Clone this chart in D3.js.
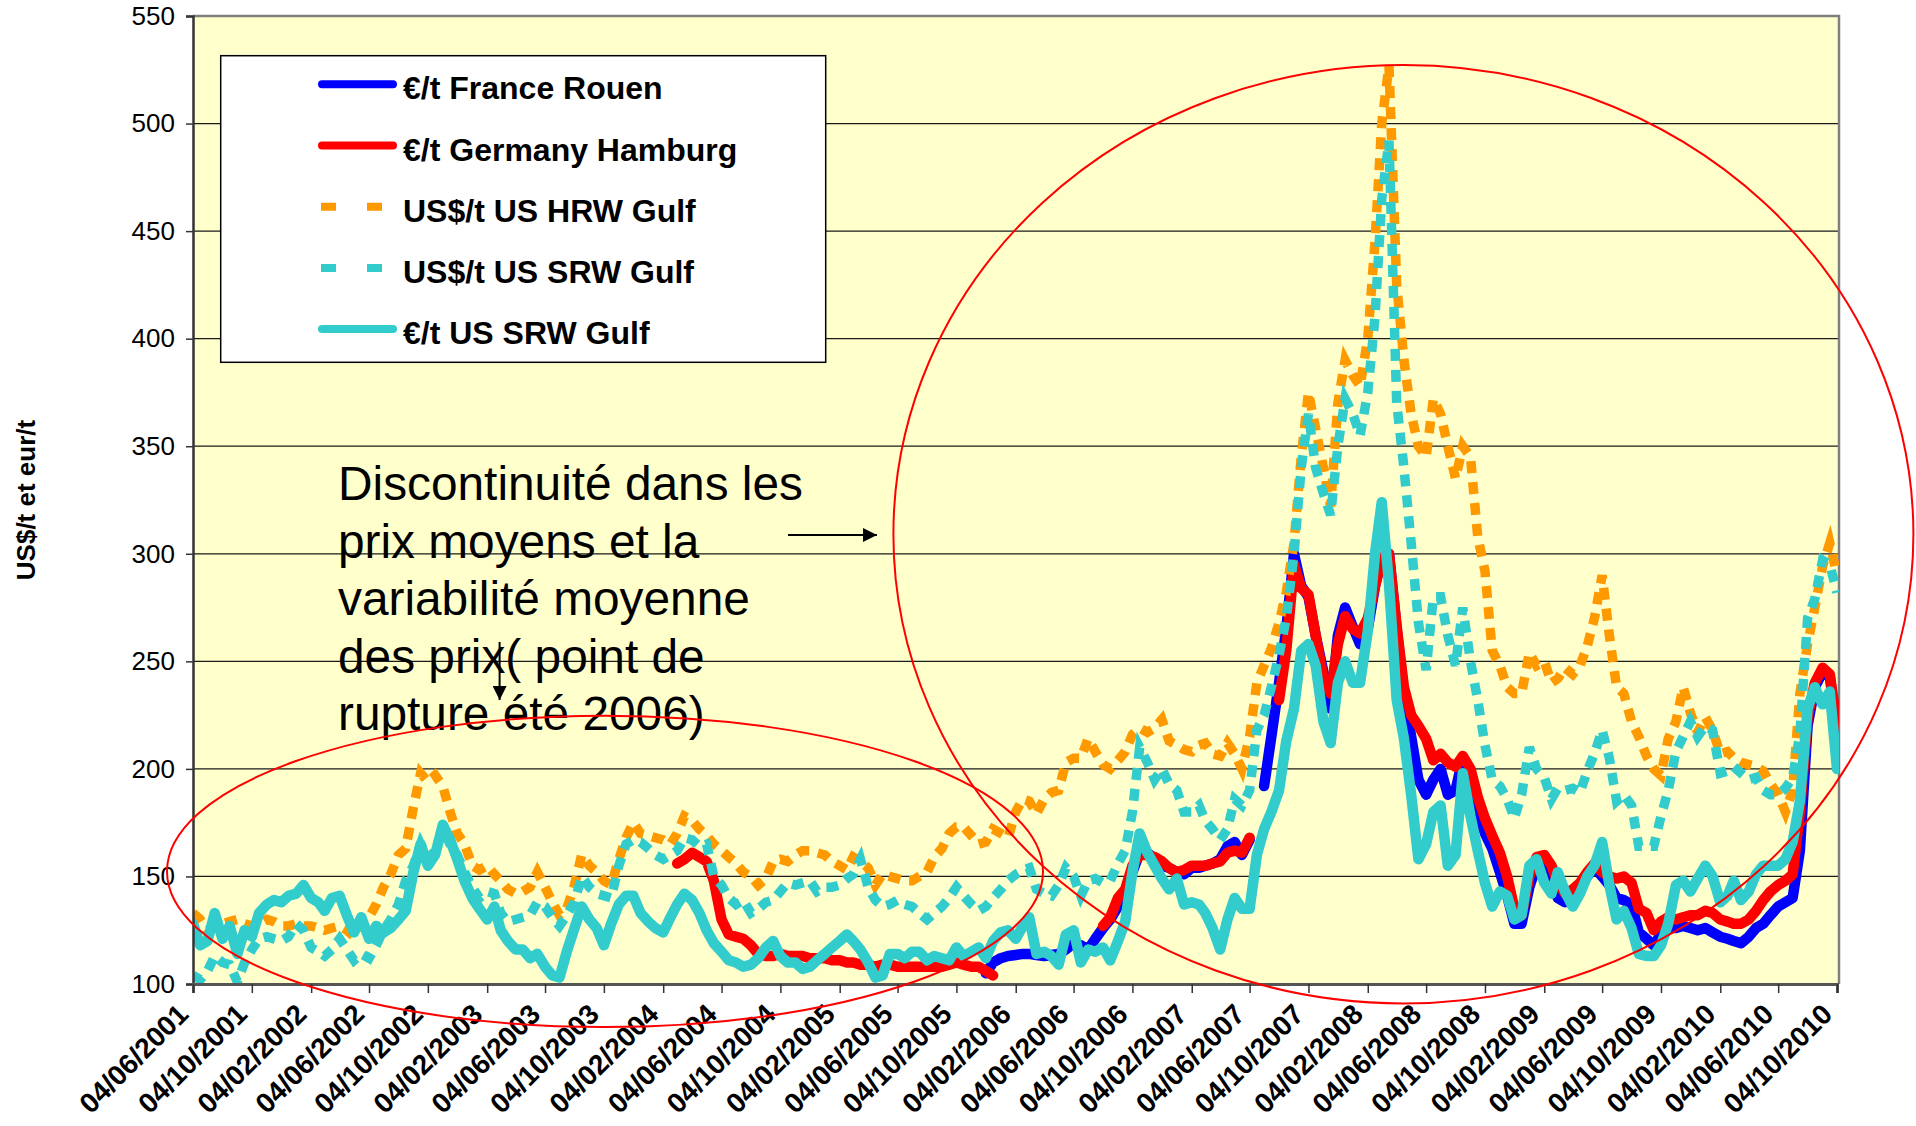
<!DOCTYPE html>
<html>
<head>
<meta charset="utf-8">
<script src="https://cdn.jsdelivr.net/npm/d3@7/dist/d3.min.js"></script>
<style>
  html, body { margin: 0; padding: 0; background: #ffffff; }
  svg { display: block; }
  text { font-family: "Liberation Sans", Arial, Helvetica, sans-serif; }
</style>
</head>
<body>
<svg id="chart" width="1916" height="1126"></svg>
<script>
const startDate = "2001-06-04";           // first observation, then every half month
const tickLabels = ["04/06/2001","04/10/2001","04/02/2002","04/06/2002","04/10/2002","04/02/2003",
  "04/06/2003","04/10/2003","04/02/2004","04/06/2004","04/10/2004","04/02/2005","04/06/2005",
  "04/10/2005","04/02/2006","04/06/2006","04/10/2006","04/02/2007","04/06/2007","04/10/2007",
  "04/02/2008","04/06/2008","04/10/2008","04/02/2009","04/06/2009","04/10/2009","04/02/2010",
  "04/06/2010","04/10/2010"];
const yTicks = [100,150,200,250,300,350,400,450,500,550];
const seriesNames = ["€/t France Rouen","€/t Germany Hamburg","US$/t US HRW Gulf","US$/t US SRW Gulf","€/t US SRW Gulf"];
const yTitle = "US$/t et eur/t";
const annotationLines = ["Discontinuité dans les","prix moyens et la","variabilité moyenne","des prix( point de","rupture été 2006)"];

// €/t France Rouen (starts at observation 108)
const frRouenStart = 108;
const frRouen = [105,110,
  112,113,113.5,114,114,113.5,113,113.5,114,116,
  119,118,116,121,126,130,136,143,152,161,
  161,158,155,154,152,151,154,154,155,156,
  158,164,166,160,167,null,192,215,240,265,
  300,285,280,262,245,228,262,275,266,258,
  265,285,298,300,265,235,215,195,188,195,
  200,188,190,205,195,180,170,163,152,141,
  128,128,145,155,156,150,140,138,140,145,
  150,154,150,146,140,139,137,124,121,118,
  123,126,126,127,126,125,126,124,122,121,
  120,119,122,126,128,132,136,138,140,162,
  220,238,245,243,218];

// €/t Germany Hamburg (starts at observation 66)
const deHamStart = 66;
const deHam = [156,158,161,159,
  157,148,130,123,122,121,118,114,113,113,
  114,113,113,113,112,112,112,111,111,110,
  110,109,109,108,109,109,108,108,108,108,
  108,108,108,109,110,109,108,108,106,104,
  null,null,null,null,null,null,null,null,null,null,
  null,null,null,null,127,131,140,144,155,160,
  160,159,157,154,152,153,155,155,155,156,
  157,161,162,161,168,null,null,null,232,255,
  295,284,281,262,242,235,258,271,265,263,
  270,285,298,300,266,238,225,220,214,204,
  207,203,201,206,200,187,177,169,161,150,
  135,132,150,159,160,155,147,142,144,147,
  152,156,152,150,149,150,147,135,133,125,
  129,131,130,131,132,132,134,133,130,129,
  128,128,130,134,139,143,146,148,151,180,
  224,240,247,244,220];

// US$/t US HRW Gulf
const usHRW = [133,130,125,127,128,129,130,128,127,128,
  130,129,127,127,128,127,127,126,125,126,
  127,125,122,127,131,137,145,151,160,163,
  182,198,194,197,192,180,170,165,155,153,
  155,151,148,144,142,143,145,152,145,138,
  132,135,146,160,155,152,148,146,158,168,
  175,170,169,168,167,165,170,178,176,172,
  169,165,162,159,156,152,150,146,149,157,
  158,157,160,162,162,161,160,157,155,153,
  159,157,154,146,151,150,149,148,148,150,
  152,159,163,170,173,173,169,165,166,172,
  170,168,180,186,185,179,186,189,190,203,
  205,205,214,208,202,200,204,208,216,219,
  217,219,223,213,211,209,208,211,212,207,
  206,212,207,200,215,240,248,256,268,282,
  305,345,375,358,340,322,370,390,383,378,
  400,445,500,527,425,390,365,350,345,372,
  365,350,335,350,345,308,292,255,248,238,
  235,235,254,248,250,240,242,247,244,248,
  257,270,290,262,238,235,222,215,206,200,
  197,214,222,238,226,217,224,218,207,208,
  205,203,202,201,199,193,188,180,190,235,
  258,275,294,305,290];

// US$/t US SRW Gulf
const usSRW = [104,102,106,113,110,109,101,110,116,121,
  122,121,120,122,128,125,117,115,113,116,
  121,116,111,114,112,118,125,130,137,148,
  155,165,158,162,172,165,160,152,145,140,
  143,142,133,129,130,131,132,138,136,131,
  127,132,138,150,145,142,141,140,155,165,
  167,166,163,160,158,160,162,168,167,164,
  165,150,146,140,137,139,133,135,138,139,
  143,147,146,147,148,143,145,145,146,149,
  151,158,145,139,136,137,139,137,136,133,
  130,133,136,140,145,141,137,134,136,140,
  144,148,151,153,154,144,142,141,146,154,
  150,141,148,149,147,148,156,162,180,210,
  203,195,200,193,190,180,180,183,176,172,
  167,172,186,183,190,218,225,238,253,270,
  300,340,365,340,328,318,350,372,365,355,
  375,410,465,492,370,340,305,268,246,280,
  280,262,248,275,250,232,211,195,192,186,
  177,188,210,200,196,186,191,190,191,189,
  199,207,218,205,185,188,183,164,164,164,
  178,190,208,215,222,215,220,218,198,199,
  201,198,195,196,190,188,188,191,196,216,
  270,279,297,295,282];

// €/t US SRW Gulf
const eurSRW = [128,118,120,133,121,127,114,125,122,133,
  137,139,138,141,142,146,140,138,134,140,
  141,132,124,131,121,127,124,126,130,134,
  152,165,155,160,174,167,158,148,140,135,
  130,136,125,120,116,116,112,114,108,104,
  103,115,126,136,130,126,118,128,137,141,
  141,133,129,126,124,131,137,142,139,133,
  125,119,115,111,110,108,109,112,117,120,
  113,110,110,107,108,111,114,117,120,123,
  120,116,110,103,104,114,114,112,115,115,
  111,113,112,111,117,113,115,117,112,120,
  124,125,121,127,131,114,115,113,109,123,
  125,110,116,115,117,111,120,129,152,170,
  161,155,149,144,149,137,138,137,133,126,
  116,130,140,135,135,160,172,180,190,213,
  228,255,258,248,222,212,240,250,240,240,
  264,300,324,286,232,214,188,158,165,180,
  183,155,160,198,178,162,147,136,143,141,
  130,132,155,158,147,142,152,143,136,142,
  150,155,166,146,130,134,126,114,113,113,
  118,128,146,148,143,149,155,150,138,141,
  148,139,143,151,155,155,155,158,166,185,
  228,238,230,236,200];

// ---------------- LAYOUT ----------------
const plot = { left: 193, top: 16, right: 1839, bottom: 984 };
const colors = { blue: "#0000FF", red: "#FF0000", orange: "#FF9900", cyan: "#33CCCC", bg: "#FFFFCC" };

const svg = d3.select("#chart");
const parseISO = d3.timeParse("%Y-%m-%d");
const parseTick = d3.timeParse("%d/%m/%Y");
const t0 = parseISO(startDate);
const obsDate = i => d3.timeDay.offset(d3.timeMonth.offset(t0, Math.floor(i / 2)), (i % 2) * 15);
const tickDates = tickLabels.map(parseTick);

const x = d3.scaleTime()
  .domain([tickDates[0], tickDates[tickDates.length - 1]])
  .range([plot.left, 1837]);
const y = d3.scaleLinear().domain([100, 550]).range([plot.bottom, plot.top]);

// plot background
svg.append("rect")
  .attr("x", plot.left).attr("y", plot.top)
  .attr("width", plot.right - plot.left).attr("height", plot.bottom - plot.top)
  .attr("fill", colors.bg);

// gridlines
svg.append("g").selectAll("line").data(yTicks.filter(v => v > 100 && v < 550)).join("line")
  .attr("x1", plot.left).attr("x2", plot.right)
  .attr("y1", d => y(d)).attr("y2", d => y(d))
  .attr("stroke", "#1a1a1a").attr("stroke-width", 1.2);

// plot border (top/right gray)
svg.append("path")
  .attr("d", `M${plot.left},${plot.top}H${plot.right}V${plot.bottom}`)
  .attr("fill", "none").attr("stroke", "#808080").attr("stroke-width", 2.5);

// clip
svg.append("clipPath").attr("id", "clip").append("rect")
  .attr("x", plot.left).attr("y", plot.top - 6)
  .attr("width", plot.right - plot.left).attr("height", plot.bottom - plot.top + 6);

const g = svg.append("g").attr("clip-path", "url(#clip)");

function makeLine(start) {
  return d3.line()
    .defined(d => d != null)
    .x((d, i) => x(obsDate(start + i)))
    .y(d => y(d));
}

const seriesDefs = [
  { data: frRouen, start: frRouenStart, color: colors.blue, dashed: false },
  { data: deHam, start: deHamStart, color: colors.red, dashed: false },
  { data: usHRW, start: 0, color: colors.orange, dashed: true },
  { data: usSRW, start: 0, color: colors.cyan, dashed: true },
  { data: eurSRW, start: 0, color: colors.cyan, dashed: false }
];

seriesDefs.forEach(s => {
  const p = g.append("path")
    .attr("d", makeLine(s.start)(s.data))
    .attr("fill", "none")
    .attr("stroke", s.color);
  if (s.dashed) {
    p.attr("stroke-width", 9.5).attr("stroke-dasharray", "12 9").attr("stroke-linecap", "butt").attr("stroke-linejoin", "miter");
  } else {
    p.attr("stroke-width", 10.5).attr("stroke-linecap", "round").attr("stroke-linejoin", "round");
  }
});

// y axis
const yAxis = d3.axisLeft(y).tickValues(yTicks).tickSize(7).tickPadding(11).tickFormat(d3.format("d"));
const yg = svg.append("g").attr("transform", `translate(${plot.left},0)`).call(yAxis);
yg.select(".domain").attr("stroke", "#333").attr("stroke-width", 2.5);
yg.selectAll(".tick line").attr("stroke", "#333").attr("stroke-width", 1.5);
yg.selectAll(".tick text").attr("font-size", 26).attr("fill", "#000")
  .attr("font-family", '"Liberation Sans", Arial, sans-serif');

// x axis
const xAxis = d3.axisBottom(x).tickValues(tickDates).tickSize(9).tickFormat("");
const xg = svg.append("g").attr("transform", `translate(0,${plot.bottom})`).call(xAxis);
xg.select(".domain").attr("stroke", "#555").attr("stroke-width", 3);
xg.selectAll(".tick line").attr("stroke", "#333").attr("stroke-width", 1.5);

svg.append("g").selectAll("text").data(tickLabels).join("text")
  .attr("transform", (d, i) => `translate(${x(tickDates[i]) - 3},${plot.bottom + 32}) rotate(-45)`)
  .attr("text-anchor", "end")
  .attr("font-size", 28).attr("font-weight", "bold").attr("fill", "#000")
  .text(d => d);

// y title
svg.append("text")
  .attr("transform", `translate(35,${(plot.top + plot.bottom) / 2}) rotate(-90)`)
  .attr("text-anchor", "middle")
  .attr("font-size", 26).attr("font-weight", "bold").attr("fill", "#000")
  .text(yTitle);

// legend
const lg = svg.append("g");
lg.append("rect").attr("x", 220.7).attr("y", 55.7).attr("width", 605).attr("height", 306.6)
  .attr("fill", "#ffffff").attr("stroke", "#000").attr("stroke-width", 1.5);
const legendStyle = [
  { color: colors.blue, dashed: false },
  { color: colors.red, dashed: false },
  { color: colors.orange, dashed: true },
  { color: colors.cyan, dashed: true },
  { color: colors.cyan, dashed: false }
];
seriesNames.forEach((name, i) => {
  const cy = 84.3 + i * 61.2;
  const st = legendStyle[i];
  if (st.dashed) {
    lg.append("line").attr("x1", 321).attr("x2", 397).attr("y1", cy).attr("y2", cy)
      .attr("stroke", st.color).attr("stroke-width", 8).attr("stroke-dasharray", "15 31");
  } else {
    lg.append("line").attr("x1", 322).attr("x2", 393).attr("y1", cy).attr("y2", cy)
      .attr("stroke", st.color).attr("stroke-width", 8).attr("stroke-linecap", "round");
  }
  lg.append("text").attr("x", 403).attr("y", cy + 15)
    .attr("font-size", 32).attr("font-weight", "bold").attr("fill", "#000").text(name);
});

// annotation text
svg.append("g").selectAll("text").data(annotationLines).join("text")
  .attr("x", 338).attr("y", (d, i) => 500 + i * 57.5)
  .attr("font-size", 47.8).attr("fill", "#000").text(d => d);

// arrows
const defs = svg.append("defs");
defs.append("marker").attr("id", "arrow").attr("viewBox", "0 0 10 10")
  .attr("refX", 10).attr("refY", 5).attr("markerUnits", "userSpaceOnUse")
  .attr("markerWidth", 15).attr("markerHeight", 14).attr("orient", "auto")
  .append("path").attr("d", "M0,0L10,5L0,10z").attr("fill", "#000");
svg.append("line").attr("x1", 788).attr("y1", 535).attr("x2", 877).attr("y2", 535)
  .attr("stroke", "#000").attr("stroke-width", 2).attr("marker-end", "url(#arrow)");
svg.append("line").attr("x1", 499.6).attr("y1", 642).attr("x2", 499.6).attr("y2", 700)
  .attr("stroke", "#000").attr("stroke-width", 2).attr("marker-end", "url(#arrow)");

// ellipses
svg.append("ellipse").attr("cx", 605).attr("cy", 871.4).attr("rx", 438).attr("ry", 155.7)
  .attr("fill", "none").attr("stroke", "#FF0000").attr("stroke-width", 2);
svg.append("ellipse").attr("cx", 1403.4).attr("cy", 534.2).attr("rx", 510).attr("ry", 469.2)
  .attr("fill", "none").attr("stroke", "#FF0000").attr("stroke-width", 2);
</script>
</body>
</html>
